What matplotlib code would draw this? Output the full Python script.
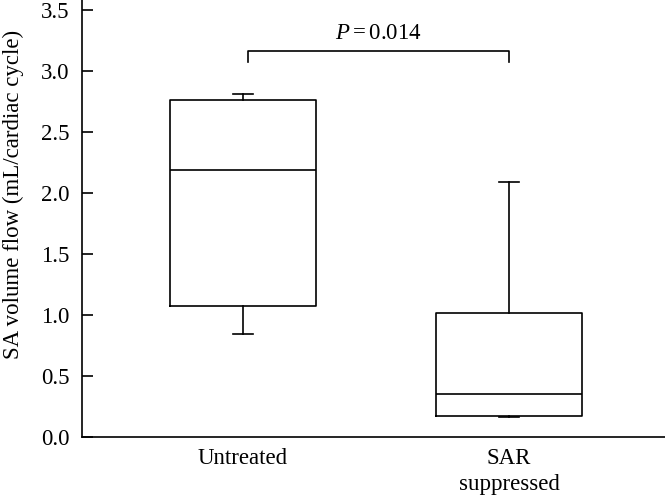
import numpy as np
import matplotlib
matplotlib.use("Agg")
from matplotlib import pyplot as plt

plt.rcParams['font.family'] = ['Liberation Serif', 'DejaVu Serif']
plt.rcParams['mathtext.fontset'] = 'custom'
plt.rcParams['mathtext.rm'] = 'Liberation Serif'
plt.rcParams['mathtext.it'] = 'Liberation Serif:italic'

# box statistics
groups = ['Untreated', 'SAR\nsuppressed']
whislo = [0.84, 0.16]
q1 = [1.07, 0.175]
med = [2.19, 0.35]
q3 = [2.76, 1.015]
whishi = [2.81, 2.09]
p_text = r'$P = 0.014$'

stats = []
for i in range(len(groups)):
    stats.append({'label': groups[i], 'whislo': whislo[i], 'q1': q1[i], 'med': med[i],
                  'q3': q3[i], 'whishi': whishi[i], 'fliers': []})

fig = plt.figure(figsize=(6.65, 4.97), dpi=100)
ax = fig.add_axes([0.1233, 0.1207, 0.8767, 0.8793])

lw = 1.2
fs = 16.5
ax.bxp(stats, positions=[1, 2], widths=0.55, capwidths=0.075, showfliers=False,
       boxprops=dict(color='black', linewidth=lw),
       whiskerprops=dict(color='black', linewidth=lw),
       capprops=dict(color='black', linewidth=lw),
       medianprops=dict(color='black', linewidth=lw))

ax.set_xlim(0.395, 2.586)
ax.set_ylim(0, 3.58)
ax.set_yticks(np.arange(0, 3.51, 0.5))
ax.set_yticklabels(['%.1f' % v for v in np.arange(0, 3.51, 0.5)])
ax.tick_params(axis='y', direction='in', length=8, width=1.2, labelsize=fs, pad=9)
ax.tick_params(axis='x', length=0, labelsize=fs, pad=8)
ax.set_xticklabels(groups, linespacing=1.3)
ax.set_ylabel('SA volume flow (mL/cardiac cycle)', fontsize=fs)
ax.yaxis.set_label_coords(-0.099, 0.556)

for s in ['top', 'right']:
    ax.spines[s].set_visible(False)
for s in ['left', 'bottom']:
    ax.spines[s].set_linewidth(1.2)

# significance bracket
x1, x2, yb, yt = 1.02, 2.0, 3.07, 3.16
ax.plot([x1, x1, x2, x2], [yb, yt, yt, yb], color='black', linewidth=lw)
ax.text((x1 + x2) / 2, 3.22, p_text, ha='center', va='bottom', fontsize=fs)

fig.savefig('out.png', dpi=100)
